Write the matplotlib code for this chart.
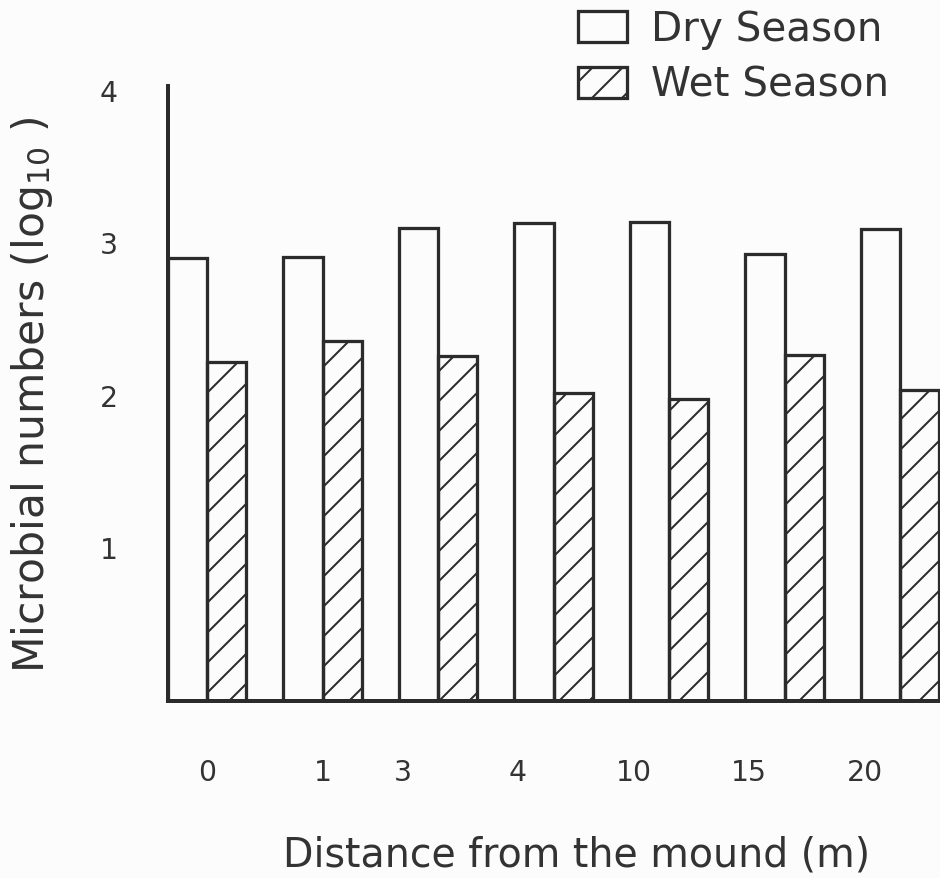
import matplotlib
matplotlib.use('agg')
import matplotlib.pyplot as plt
import numpy as np

# distances from the mound (m) and log10 microbial counts
distances = ['0', '1', '3', '4', '10', '15', '20']
dry_season = [2.90, 2.91, 3.10, 3.13, 3.14, 2.93, 3.09]
wet_season = [2.22, 2.36, 2.26, 2.02, 1.98, 2.27, 2.04]
series_names = ['Dry Season', 'Wet Season']

ink = '#2b2b2b'
txt = '#333333'
plt.rcParams['font.family'] = ['DejaVu Sans']
plt.rcParams['hatch.linewidth'] = 0.8
plt.rcParams['hatch.color'] = ink

# dpi 180 keeps the hatch spacing close to the scan
fig = plt.figure(figsize=(940 / 180, 878 / 180), dpi=180, facecolor='#fcfcfc')
ax = fig.add_axes([168 / 940, 177 / 878, 772 / 940, 615 / 878])
ax.set_facecolor('#fcfcfc')

x = np.arange(len(distances))
w = 0.338
ax.bar(x - w / 2, dry_season, w, facecolor='none', edgecolor=ink, lw=1.3,
       label=series_names[0])
ax.bar(x + w / 2, wet_season, w, facecolor='none', edgecolor=ink, lw=1.3,
       hatch='//', label=series_names[1])

ax.set_xlim(-w, x[-1] + 0.346)
ax.set_ylim(0, 4.03)

for s in ['top', 'right']:
    ax.spines[s].set_visible(False)
for s in ['left', 'bottom']:
    ax.spines[s].set_linewidth(1.6)
    ax.spines[s].set_color(ink)

# the scan puts the later labels under the left edge of each dry bar
tick_pos = np.where(x < 2, x, x - w + 0.03)
ax.set_xticks(tick_pos)
ax.set_xticklabels(distances)
ax.set_yticks([1, 2, 3, 4])
ax.set_yticklabels(['1', '2', '3', '4'])
ax.tick_params(axis='both', length=0, labelsize=11.3, labelcolor=txt)
ax.tick_params(axis='y', pad=20)
ax.tick_params(axis='x', pad=23)

fig.text(577 / 940, 1 - 855 / 878, 'Distance from the mound (m)', fontsize=15.8,
         color=txt, ha='center', va='center')
fig.text(32 / 940, 1 - 395 / 878, 'Microbial numbers (log$_{10}$ )', fontsize=17,
         color=txt, ha='center', va='center', rotation=90)

leg = ax.legend(loc='upper left', bbox_to_anchor=(578 / 940, 1 - 10 / 878),
                bbox_transform=fig.transFigure, frameon=False, fontsize=16.2,
                handlelength=1.2, handleheight=0.8, handletextpad=0.6,
                labelspacing=0.38, borderpad=0, borderaxespad=0)
for t in leg.get_texts():
    t.set_color(txt)

fig.savefig('out.png', dpi=180, facecolor=fig.get_facecolor())
